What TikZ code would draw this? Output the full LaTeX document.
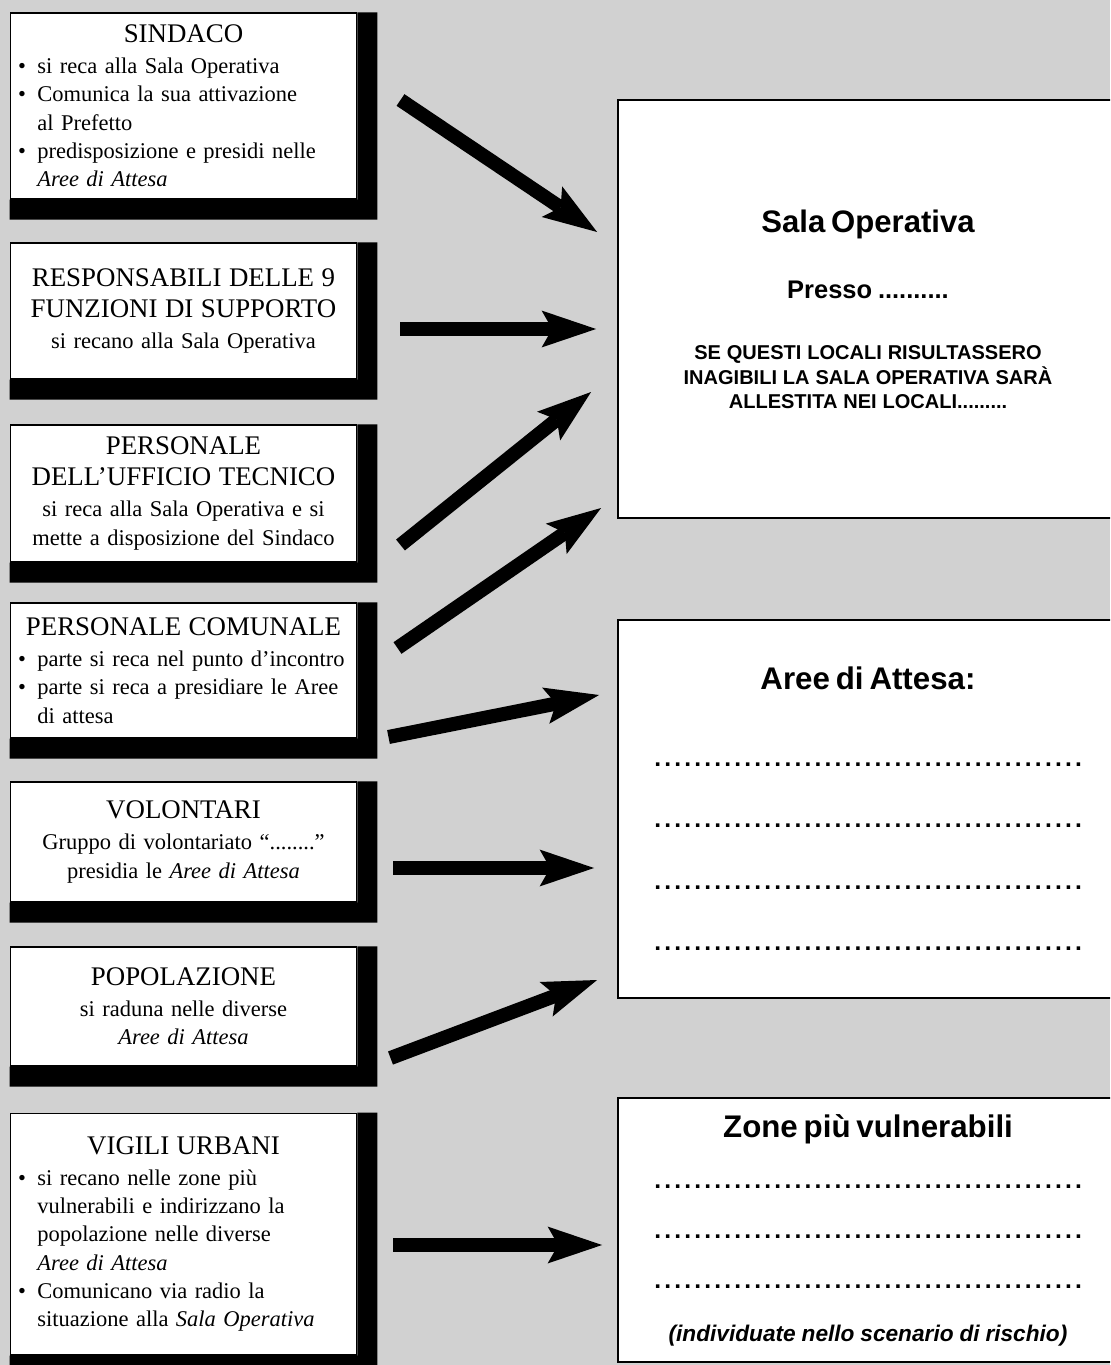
\documentclass[tikz,border=0pt]{standalone}
\usepackage{fontspec}
\setmainfont{Liberation Serif}
\newfontfamily\hv{Liberation Sans}
\usetikzlibrary{arrows.meta}
\definecolor{sfondo}{gray}{0.82}
\newcommand{\testa}[1]{{\centering\fontsize{15.3}{17.6}\selectfont #1\par}\vspace{1.5pt}}
\newcommand{\voce}[1]{\par\noindent\hangindent=11pt\hangafter=1\makebox[11pt][l]{\textbullet}#1\par}
\newcommand{\puntini}{\par\hbox to 8.66cm{\cleaders\hbox to 5.7pt{\hss.\hss}\hfill}}
\begin{document}
\begin{tikzpicture}[x=0.02cm,y=-0.02cm,
  sx/.style={draw=black,line width=0.6pt,fill=white,text width=6.62cm,inner xsep=0.16cm,inner ysep=0pt,minimum width=6.94cm,align=left,font=\fontsize{12.8}{16.1}\selectfont},
  dx/.style={draw=black,line width=1.1pt,fill=white,text width=8.66cm,inner xsep=0.67cm,inner ysep=0pt,minimum width=10cm,align=center,font=\hv\bfseries},
  freccia/.style={line width=8pt,-{Stealth[length=31pt,width=21pt,inset=6pt,line width=0pt]}}]
\clip (0,0) rectangle (1110,1365);
\fill[sfondo] (0,0) rectangle (1110,1365);
\node[sx,minimum height=3.72cm] (sindaco) at (183.5,106) {\testa{SINDACO}\voce{si reca alla Sala Operativa}\voce{Comunica la sua attivazione\break al Prefetto}\voce{predisposizione e presidi nelle\break\emph{Aree di Attesa}}};
\node[sx,minimum height=2.72cm] (resp) at (183.5,311) {\testa{RESPONSABILI DELLE 9\\FUNZIONI DI SUPPORTO}{\centering si recano alla Sala Operativa\par}};
\node[sx,minimum height=2.74cm] (tecnico) at (183.5,493.5) {\testa{PERSONALE\\DELL’UFFICIO TECNICO}{\centering si reca alla Sala Operativa e si\\mette a disposizione del Sindaco\par}};
\node[sx,minimum height=2.70cm] (comunale) at (183.5,670.5) {\testa{PERSONALE COMUNALE}\voce{parte si reca nel punto d’incontro}\voce{parte si reca a presidiare le Aree\break di attesa}};
\node[sx,minimum height=2.40cm] (volontari) at (183.5,842) {\testa{VOLONTARI}{\centering Gruppo di volontariato “........”\\presidia le \emph{Aree di Attesa}\par}};
\node[sx,minimum height=2.38cm] (popolazione) at (183.5,1006.5) {\testa{POPOLAZIONE}{\centering si raduna nelle diverse\\\emph{Aree di Attesa}\par}};
\node[sx,minimum height=4.84cm] (vigili) at (183.5,1234) {\testa{VIGILI URBANI}\voce{si recano nelle zone più\break vulnerabili e indirizzano la\break popolazione nelle diverse\break\emph{Aree di Attesa}}\voce{Comunicano via radio la\break situazione alla \emph{Sala Operativa}}};
\foreach \n in {sindaco,resp,tecnico,comunale,volontari,popolazione,vigili}
  \fill (\n.north east) -- ++(20,0) |- ([shift={(0,20)}]\n.south west) -- (\n.south west) -- (\n.south east) -- cycle;
\node[dx,minimum height=8.36cm] (sala) at (868,309) {{\fontsize{17.7}{20}\selectfont Sala Operativa\par}\vspace{21pt}{\fontsize{14.5}{17}\selectfont Presso ..........\par}\vspace{21pt}{\fontsize{11.4}{13.7}\selectfont SE QUESTI LOCALI RISULTASSERO\\INAGIBILI LA SALA OPERATIVA SARÀ\\ALLESTITA NEI LOCALI.........\par}};
\node[dx,minimum height=7.56cm] (aree) at (868,809) {{\fontsize{17.8}{20}\selectfont Aree di Attesa:\par}\fontsize{14}{35}\selectfont\vspace{8.7pt}\puntini\puntini\puntini\puntini};
\node[dx,minimum height=5.28cm] (zone) at (868,1230) {{\fontsize{17.8}{20}\selectfont Zone più vulnerabili\par}\fontsize{14}{28.4}\selectfont\vspace{1pt}\puntini\puntini\puntini{\fontsize{12.9}{30}\selectfont\itshape (individuate nello scenario di rischio)\par}};
\draw[freccia] ([shift={(43,-6)}]sindaco.east) -- ([shift={(-20,-77)}]sala.west);
\draw[freccia] ([shift={(43,18)}]resp.east) -- ([shift={(-21,20)}]sala.west);
\draw[freccia] ([shift={(43,51.5)}]tecnico.east) -- ([shift={(-26,83)}]sala.west);
\draw[freccia] ([shift={(40,-22.5)}]comunale.east) -- ([shift={(-16,199)}]sala.west);
\draw[freccia] ([shift={(31,66.5)}]comunale.east) -- ([shift={(-18,-114)}]aree.west);
\draw[freccia] ([shift={(36,26)}]volontari.east) -- ([shift={(-23,59)}]aree.west);
\draw[freccia] ([shift={(33,51.5)}]popolazione.east) -- ([shift={(-20,171)}]aree.west);
\draw[freccia] ([shift={(36,11)}]vigili.east) -- ([shift={(-15,15)}]zone.west);
\end{tikzpicture}
\end{document}
